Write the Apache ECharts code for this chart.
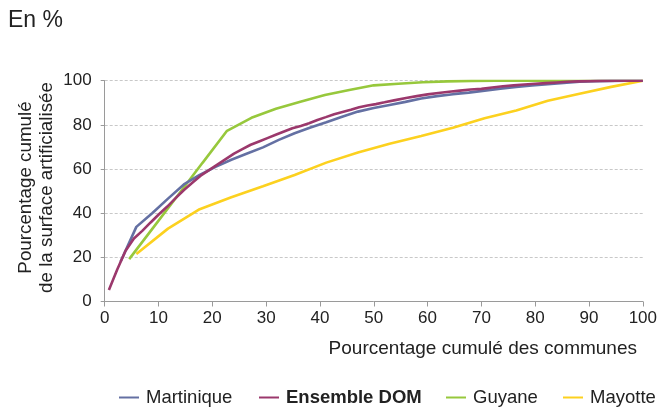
<!DOCTYPE html>
<html><head><meta charset="utf-8">
<script src="https://cdn.jsdelivr.net/npm/echarts@6/dist/echarts.min.js"></script>
<style>html,body{margin:0;padding:0;background:#fff}#c{width:660px;height:407px}</style>
</head><body><div id="c"></div>
<script>
// ---- Data ----
const seriesNames = ['Martinique', 'Ensemble DOM', 'Guyane', 'Mayotte'];
const xTicks = [0,10,20,30,40,50,60,70,80,90,100];
const yTicks = [0,20,40,60,80,100];
const yAxisTitle = ['Pourcentage cumulé', 'de la surface artificialisée'];

const martiniqueX = [2.94,5.88,8.82,11.76,14.71,17.65,20.59,23.53,26.47,29.41,32.35,35.29,38.24,41.18,44.12,47.06,50,52.94,55.88,58.82,61.76,64.71,67.65,70.59,73.53,76.47,79.41,82.35,85.29,88.24,91.18,94.12,97.06,100];
const martiniqueY = [18,33.8,40,46.6,53,57.3,61,64.2,67,69.8,73.2,76.2,78.8,81.2,83.7,86,87.6,89,90.4,91.9,93,93.9,94.6,95.5,96.4,97.2,97.8,98.4,99,99.5,99.8,99.9,100,100];

const domX = [0.78,2.33,3.88,5.43,6.98,8.53,10.08,11.63,13.18,14.73,16.28,17.83,19.38,20.93,22.48,24.03,25.58,27.13,28.68,30.23,31.78,33.33,34.88,36.43,37.98,39.53,41.09,42.64,44.19,45.74,47.29,48.84,50.39,52,54,56,58,60,62,64,66,68,70,72,74,76,78,80,82,84,86,88,90,92,95,100];
const domY = [5.2,14.5,23,28.5,32,35.8,39.5,43,46.8,50.5,53.8,57,59.5,62,64.5,67,69,71,72.5,74,75.5,77,78.5,79.5,80.7,82.2,83.5,84.8,85.8,86.8,88,88.8,89.4,90.2,91.2,92.2,93,93.8,94.4,95,95.5,96,96.3,96.9,97.5,97.9,98.3,98.6,98.9,99.2,99.5,99.7,99.8,99.9,100,100];

const guyaneX = [4.55,9.09,13.64,18.18,22.73,27.27,31.82,36.36,40.91,45.45,50,54.55,59.09,63.64,68.18,72.73,77.27,81.82,86.36,90.91,95.45,100];
const guyaneY = [19.2,33.7,48.2,62.8,77.3,83.2,87.3,90.5,93.5,95.8,97.9,98.6,99.3,99.7,99.9,100,100,100,100,100,100,100];

const mayotteX = [5.88,11.76,17.65,23.53,29.41,35.29,41.18,47.06,52.94,58.82,64.71,70.59,76.47,82.35,88.24,94.12,100];
const mayotteY = [21.5,33,41.8,47.2,52.2,57.3,62.9,67.5,71.4,75,78.7,83,86.5,90.9,94.1,97.2,100];

const colors = ['#6470a3', '#9b386c', '#97c83c', '#fcd11f'];

// ---- Chart ----
const zip = (xs, ys) => xs.map((x, i) => [x, ys[i]]);
const chart = echarts.init(document.getElementById('c'), null, {renderer: 'canvas'});
const FONT = 'Liberation Sans, Arial, sans-serif';
const lineSeries = (name, xs, ys, color) => ({
  name, type: 'line', data: zip(xs, ys), showSymbol: false, symbol: 'none',
  lineStyle: {color, width: 2.6}, itemStyle: {color}, animation: false, z: 2
});
const legendAt = (name, left, bold) => ({
  data: [name], left, top: 383, icon: 'rect', itemWidth: 20, itemHeight: 2, itemGap: 0,
  textStyle: {fontFamily: FONT, fontSize: 18.5, color: '#222', fontWeight: bold ? 'bold' : 'normal', padding: [0,0,0,2]},
  selectedMode: false
});
const vText = (text, x, y) => ({
  type: 'text', x, y, rotation: Math.PI / 2,
  style: {text, font: '18.8px ' + FONT, fill: '#222', align: 'center', verticalAlign: 'middle'}
});
chart.setOption({
  backgroundColor: '#fff',
  animation: false,
  textStyle: {fontFamily: FONT},
  grid: {left: 104.7, right: 13.3, top: 80.7, bottom: 105.5},
  xAxis: {
    type: 'value', min: 0, max: 100, interval: 10,
    axisLine: {show: true, lineStyle: {color: '#9a9a9a', width: 1}},
    axisTick: {show: true, length: 5, lineStyle: {color: '#9a9a9a'}},
    axisLabel: {fontSize: 17, color: '#222', margin: 8, fontFamily: FONT,
      formatter: v => xTicks.includes(v) ? String(v) : ''},
    splitLine: {show: false}
  },
  yAxis: {
    type: 'value', min: 0, max: 100, interval: 20,
    axisLine: {show: true, lineStyle: {color: '#9a9a9a', width: 1}},
    axisTick: {show: true, length: 4, lineStyle: {color: '#9a9a9a'}},
    axisLabel: {fontSize: 17, color: '#222', margin: 13, fontFamily: FONT,
      formatter: v => yTicks.includes(v) ? String(v) : ''},
    splitLine: {show: true, lineStyle: {color: '#c8c8c8', type: [3, 2], width: 1}}
  },
  legend: [
    legendAt('Martinique', 114, false),
    legendAt('Ensemble DOM', 254, true),
    legendAt('Guyane', 441, false),
    legendAt('Mayotte', 558, false)
  ],
  graphic: [
    {type: 'text', left: 8, top: 9, style: {text: 'En %', font: '23px ' + FONT, fill: '#222'}},
    {type: 'text', right: 23, top: 339, style: {text: 'Pourcentage cumulé des communes', font: '19px ' + FONT, fill: '#222'}},
    vText(yAxisTitle[0], 26, 187.5),
    vText(yAxisTitle[1], 47, 187.5)
  ],
  series: [
    lineSeries('Mayotte', mayotteX, mayotteY, colors[3]),
    lineSeries('Guyane', guyaneX, guyaneY, colors[2]),
    lineSeries('Martinique', martiniqueX, martiniqueY, colors[0]),
    lineSeries('Ensemble DOM', domX, domY, colors[1])
  ]
});
</script></body></html>
